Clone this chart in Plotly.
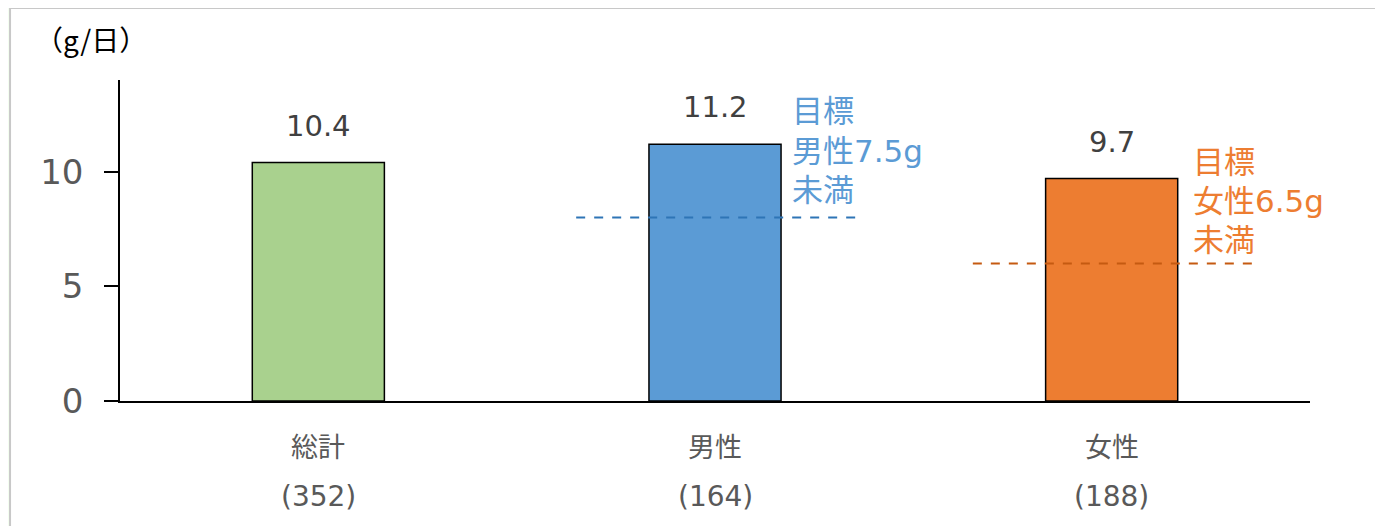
import plotly.graph_objects as go

categories = ["総計", "男性", "女性"]
counts = ["(352)", "(164)", "(188)"]
values = [10.4, 11.2, 9.7]
bar_colors = ["#a9d18e", "#5b9bd5", "#ed7d31"]
target_cat_idx = [1, 2]
target_values = [8, 6]
target_line_colors = ["#2e75b6", "#c55a11"]
target_text_colors = ["#5b9bd5", "#ed7d31"]
target_labels = [["目標", "男性7.5g", "未満"], ["目標", "女性6.5g", "未満"]]

FONT = "DejaVu Sans, Noto Sans CJK JP, sans-serif"
CJK = "Noto Sans CJK JP, DejaVu Sans, sans-serif"

fig = go.Figure()
fig.add_trace(go.Bar(
    x=list(range(len(categories))), y=values, width=0.333,
    marker=dict(color=bar_colors, line=dict(color="black", width=1.5)),
    hoverinfo="skip",
))

ann = []
for i, v in enumerate(values):
    ann.append(dict(x=i, y=v, xref="x", yref="y", text=f"{v:.1f}", showarrow=False,
                    yanchor="middle", yshift=37,
                    font=dict(size=29, color="#404040", family=FONT)))
    ann.append(dict(x=i, y=0, xref="x", yref="paper", text=categories[i], showarrow=False,
                    yanchor="middle", yshift=-46,
                    font=dict(size=27, color="#595959", family=FONT)))
    ann.append(dict(x=i, y=0, xref="x", yref="paper", text=counts[i], showarrow=False,
                    yanchor="middle", yshift=-95,
                    font=dict(size=28, color="#595959", family=FONT)))

shapes = [dict(type="rect", xref="paper", yref="paper", x0=-0.0924, x1=1.2, y0=-0.6, y1=1.224,
               fillcolor="white", line=dict(color="#c8c8c8", width=2), layer="below")]

shifts = [[107, 67, 28], [101, 62, 23]]
xoffs = [0.19, 0.2]
for k, (ci, tv) in enumerate(zip(target_cat_idx, target_values)):
    shapes.append(dict(type="line", xref="x", yref="y", x0=ci - 0.35, x1=ci + 0.36, y0=tv, y1=tv,
                       line=dict(color=target_line_colors[k], width=2, dash="dash")))
    for j, line in enumerate(target_labels[k]):
        ann.append(dict(x=ci + xoffs[k], y=tv, xref="x", yref="y", text=line, showarrow=False,
                        xanchor="left", yanchor="middle", yshift=shifts[k][j],
                        font=dict(size=31, color=target_text_colors[k], family=FONT)))

ann.append(dict(x=-0.073, y=1.128, xref="paper", yref="paper", text="（g/日）", showarrow=False,
                xanchor="left", yanchor="middle",
                font=dict(size=28, color="#000000", family=CJK)))

fig.update_layout(
    width=1383, height=526,
    margin=dict(l=112, r=81, t=72, b=133),
    paper_bgcolor="#f4fef0", plot_bgcolor="white",
    showlegend=False,
    annotations=ann, shapes=shapes,
    xaxis=dict(range=[-0.5, 2.5], showticklabels=False, ticks="", showline=True,
               linecolor="black", linewidth=1.5, showgrid=False, zeroline=False, fixedrange=True),
    yaxis=dict(range=[0, 14], tickvals=[0, 5, 10], showline=True, linecolor="black", linewidth=1.5,
               ticks="outside", ticklen=14, tickcolor="black", tickwidth=1.5,
               ticklabelstandoff=14,
               showgrid=False, zeroline=False,
               tickfont=dict(size=34, color="#595959", family=FONT)),
)

fig.write_html("out.html")
